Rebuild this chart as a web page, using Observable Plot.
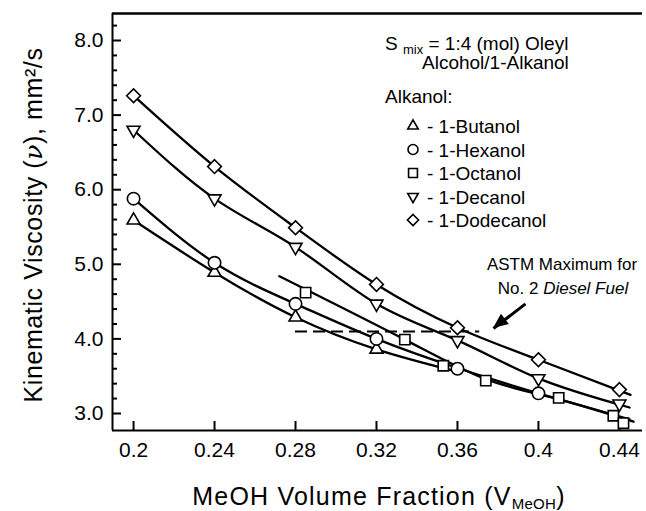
<!DOCTYPE html>
<html><head><meta charset="utf-8">
<script src="https://cdn.jsdelivr.net/npm/d3@7"></script>
<script src="https://cdn.jsdelivr.net/npm/@observablehq/plot@0.6"></script>
<style>body{margin:0;background:#fff} svg{display:block}</style>
</head><body><div id="chart"></div>
<script>
// ---- axes ----
const xDomain = [0.1896, 0.4514];
const yDomain = [2.772, 8.362];
const xTicks = [0.2, 0.24, 0.28, 0.32, 0.36, 0.4, 0.44];
const xTickLabels = ["0.2", "0.24", "0.28", "0.32", "0.36", "0.4", "0.44"];
const yTicks = [3, 4, 5, 6, 7, 8];
const yTickLabels = ["3.0", "4.0", "5.0", "6.0", "7.0", "8.0"];
const yMinorTicks = [3.2, 3.4, 3.6, 3.8, 4.2, 4.4, 4.6, 4.8, 5.2, 5.4, 5.6, 5.8, 6.2, 6.4, 6.6, 6.8, 7.2, 7.4, 7.6, 7.8, 8.2];

// ---- measured points ----
const alkanols = ["1-Butanol", "1-Hexanol", "1-Octanol", "1-Decanol", "1-Dodecanol"];
const butanolX = [0.2, 0.24, 0.28, 0.32];
const butanolV = [5.59, 4.89, 4.29, 3.86];
const hexanolX = [0.2, 0.24, 0.28, 0.32, 0.36, 0.40];
const hexanolV = [5.88, 5.02, 4.47, 4.00, 3.60, 3.27];
const octanolX = [0.285, 0.334, 0.353, 0.374, 0.41, 0.437, 0.442];
const octanolV = [4.62, 3.99, 3.64, 3.44, 3.21, 2.97, 2.87];
const decanolX = [0.2, 0.24, 0.28, 0.32, 0.36, 0.40, 0.44];
const decanolV = [6.80, 5.88, 5.23, 4.47, 3.98, 3.47, 3.13];
const dodecanolX = [0.2, 0.24, 0.28, 0.32, 0.36, 0.40, 0.44];
const dodecanolV = [7.26, 6.31, 5.49, 4.73, 4.15, 3.72, 3.32];

// ---- fitted curves ----
const butanolCurveX = [0.2, 0.24, 0.28, 0.32, 0.36];
const butanolCurveV = [5.59, 4.89, 4.29, 3.86, 3.56];
const hexanolCurveX = [0.2, 0.24, 0.28, 0.32, 0.36, 0.40, 0.445];
const hexanolCurveV = [5.88, 5.02, 4.47, 4.00, 3.61, 3.27, 2.92];
const octanolCurveX = [0.272, 0.334, 0.374, 0.41, 0.447];
const octanolCurveV = [4.84, 3.99, 3.46, 3.19, 2.89];
const decanolCurveX = [0.2, 0.24, 0.28, 0.32, 0.36, 0.40, 0.445];
const decanolCurveV = [6.80, 5.88, 5.23, 4.47, 3.98, 3.47, 3.08];
const dodecanolCurveX = [0.2, 0.24, 0.28, 0.32, 0.36, 0.40, 0.4455];
const dodecanolCurveV = [7.26, 6.31, 5.49, 4.73, 4.15, 3.72, 3.25];

// ---- annotation ----
const astmLimit = 4.1;
const astmRange = [0.28, 0.371];
const arrowFrom = [0.3936, 4.47];
const arrowTo = [0.3778, 4.14];

const symbols = ["triangle2", "circle", "square", "triangle2", "diamond2"];
const rotations = [0, 0, 0, 180, 0];

const pts = [[butanolX, butanolV], [hexanolX, hexanolV], [octanolX, octanolV], [decanolX, decanolV], [dodecanolX, dodecanolV]];
const curves = [[butanolCurveX, butanolCurveV], [hexanolCurveX, hexanolCurveV], [octanolCurveX, octanolCurveV], [decanolCurveX, decanolCurveV], [dodecanolCurveX, dodecanolCurveV]];

const pointRows = [], curveRows = [];
alkanols.forEach((name, k) => {
  pts[k][0].forEach((x, i) => pointRows.push({alkanol: name, x, v: pts[k][1][i]}));
  curves[k][0].forEach((x, i) => curveRows.push({alkanol: name, x, v: curves[k][1][i]}));
});

const FONT = "'Liberation Sans', Arial, Helvetica, sans-serif";

const marks = [
  Plot.ruleX([xDomain[0]], {stroke: "#000", strokeWidth: 2}),
  Plot.ruleY([yDomain[0]], {stroke: "#000", strokeWidth: 2}),
  Plot.ruleY([yDomain[1]], {stroke: "#000", strokeWidth: 2.5}),
  Plot.axisY(yTicks, {tickSize: -9, strokeWidth: 2, tickFormat: () => ""}),
  Plot.axisY(yMinorTicks, {tickSize: -5, strokeWidth: 2, tickFormat: () => ""}),
  Plot.axisY(yTicks, {tickSize: 0, tickPadding: 9, fontSize: 21, tickFormat: d => yTickLabels[yTicks.indexOf(d)]}),
  Plot.axisX(xTicks, {tickSize: -9, strokeWidth: 2, tickFormat: () => ""}),
  Plot.axisX(xTicks, {tickSize: 0, tickPadding: 12, fontSize: 21, tickFormat: d => xTickLabels[xTicks.indexOf(d)]}),
  Plot.ruleY([astmLimit], {x1: astmRange[0], x2: astmRange[1], stroke: "#000", strokeWidth: 2, strokeDasharray: "12,6"}),
  Plot.line(curveRows, {x: "x", y: "v", z: "alkanol", curve: "natural", stroke: "#000", strokeWidth: 2.3}),
  Plot.link([{}], {x1: arrowFrom[0], y1: arrowFrom[1], x2: arrowTo[0], y2: arrowTo[1], stroke: "#000", strokeWidth: 3})
];
alkanols.forEach((name, k) => {
  marks.push(Plot.dot(pointRows.filter(d => d.alkanol === name), {
    x: "x", y: "v", symbol: () => symbols[k], rotate: rotations[k],
    r: k === 2 ? 5.8 : 6.2, fill: "white", stroke: "#000", strokeWidth: 1.6
  }));
});

const chart = Plot.plot({
  width: 646, height: 511,
  marginLeft: 112, marginRight: 4, marginTop: 13, marginBottom: 81,
  style: {fontFamily: FONT, color: "#000", background: "#fff"},
  x: {domain: xDomain, label: null},
  y: {domain: yDomain, label: null},
  symbol: {type: "identity"},
  marks
});
document.getElementById("chart").appendChild(chart);

// ---- text annotations ----
const svg = d3.select(chart);
const g = svg.append("g").attr("font-family", FONT).attr("fill", "#000").attr("text-anchor", "start");

// filled arrowhead at the tip of the link
{
  const sx = chart.scale("x"), sy = chart.scale("y");
  const tx = sx.apply(arrowTo[0]), ty = sy.apply(arrowTo[1]);
  const fx = sx.apply(arrowFrom[0]), fy = sy.apply(arrowFrom[1]);
  const len = Math.hypot(tx - fx, ty - fy), ux = (tx - fx) / len, uy = (ty - fy) / len;
  const hl = 15, hw = 6.5;
  const bx = tx - ux * hl, by = ty - uy * hl;
  g.append("path").attr("d", `M${tx},${ty}L${bx - uy * hw},${by + ux * hw}L${bx + uy * hw},${by - ux * hw}Z`).attr("fill", "#000");
}

// Y axis title
const yt = g.append("text").attr("transform", "translate(42,225) rotate(-90)")
  .attr("text-anchor", "middle").attr("font-size", 25).attr("letter-spacing", 0.6);
yt.append("tspan").text("Kinematic Viscosity (");
yt.append("tspan").attr("font-style", "italic").attr("font-family", "'DejaVu Serif', serif").text("ν");
yt.append("tspan").text("), mm²/s");

// X axis title
const xt = g.append("text").attr("x", 379).attr("y", 505).attr("text-anchor", "middle")
  .attr("font-size", 25).attr("letter-spacing", 1.2);
xt.append("tspan").text("MeOH Volume Fraction (V");
xt.append("tspan").attr("font-size", 15).attr("dy", 4).attr("letter-spacing", 0.3).text("MeOH");
xt.append("tspan").attr("dy", -4).text(")");

// S_mix note
const s1 = g.append("text").attr("x", 385).attr("y", 50).attr("font-size", 19);
s1.append("tspan").text("S ");
s1.append("tspan").attr("font-size", 13).attr("dy", 4).text("mix");
s1.append("tspan").attr("dy", -4).text(" = 1:4 (mol) Oleyl");
g.append("text").attr("x", 422).attr("y", 69).attr("font-size", 19).text("Alcohol/1-Alkanol");
g.append("text").attr("x", 385).attr("y", 103).attr("font-size", 19).text("Alkanol:");

const legY = [126, 149.5, 173, 196.5, 220];
const d3sym = {triangle2: d3.symbolTriangle2, circle: d3.symbolCircle, square: d3.symbolSquare, diamond2: d3.symbolDiamond2};
alkanols.forEach((name, k) => {
  g.append("path").attr("d", d3.symbol(d3sym[symbols[k]], Math.PI * 25)())
    .attr("transform", `translate(413,${legY[k]}) rotate(${rotations[k]})`)
    .attr("fill", "white").attr("stroke", "#000").attr("stroke-width", 1.6);
  g.append("text").attr("x", 427).attr("y", legY[k] + 7).attr("font-size", 19).text("- " + name);
});

// ASTM label
g.append("text").attr("x", 562).attr("y", 270).attr("text-anchor", "middle").attr("font-size", 17).text("ASTM Maximum for");
const a2 = g.append("text").attr("x", 563).attr("y", 294).attr("text-anchor", "middle").attr("font-size", 17);
a2.append("tspan").text("No. 2 ");
a2.append("tspan").attr("font-style", "italic").text("Diesel Fuel");
</script>
</body></html>
